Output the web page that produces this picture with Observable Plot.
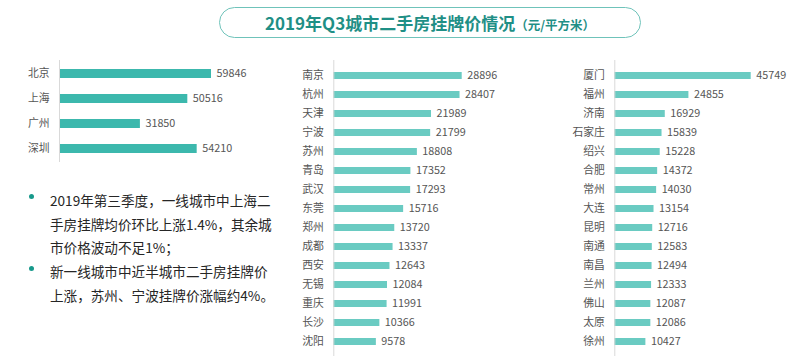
<!DOCTYPE html>
<html>
<head>
<meta charset="utf-8">
<script src="https://cdn.jsdelivr.net/npm/d3@7"></script>
<script src="https://cdn.jsdelivr.net/npm/@observablehq/plot@0.6"></script>
<style>
  html, body { margin: 0; padding: 0; background: #fff; }
  #wrap { position: relative; width: 804px; height: 364px; overflow: hidden; background: #fff;
          font-family: "Noto Sans CJK SC", "Noto Sans", sans-serif; }
  .panel { position: absolute; }
  .panel svg { background: transparent !important; }
  #title { position: absolute; left: 219px; top: 7px; width: 420px; height: 29px;
           border: 1.5px solid #6fc3ba; border-radius: 16px; box-sizing: content-box;
           text-align: center; line-height: 29px; color: #1f8f86; font-weight: bold; white-space: nowrap; }
  #title .main { font-size: 17px; }
  #title .unit { font-size: 12.5px; }
  #notes { position: absolute; left: 50px; top: 189px; font-size: 13.6px; line-height: 23.7px; color: #262626; white-space: nowrap; }
  .dot { position: absolute; width: 5px; height: 5px; border-radius: 50%; background: #17998b; }
</style>
</head>
<body>
<div id="wrap">
  <div id="title"><span class="main">2019年Q3城市二手房挂牌价情况</span><span class="unit">（元/平方米）</span></div>
  <div class="panel" id="p1" style="left:0px;top:50px;"></div>
  <div class="panel" id="p2" style="left:285px;top:50px;"></div>
  <div class="panel" id="p3" style="left:560px;top:50px;"></div>
  <div class="dot" style="left:29px;top:194px;"></div>
  <div class="dot" style="left:29px;top:266px;"></div>
  <div id="notes">2019年第三季度，一线城市中上海二<br>手房挂牌均价环比上涨1.4%，其余城<br>市价格波动不足1%；<br>新一线城市中近半城市二手房挂牌价<br>上涨，苏州、宁波挂牌价涨幅约4%。</div>
</div>
<script>
// Tier-1 cities
const tier1Cities = ["北京", "上海", "广州", "深圳"];
const tier1Values = [59846, 50516, 31850, 54210];

// New tier-1 cities (middle panel)
const newTier1Cities = ["南京", "杭州", "天津", "宁波", "苏州", "青岛", "武汉", "东莞", "郑州", "成都", "西安", "无锡", "重庆", "长沙", "沈阳"];
const newTier1Values = [28896, 28407, 21989, 21799, 18808, 17352, 17293, 15716, 13720, 13337, 12643, 12084, 11991, 10366, 9578];

// Other cities (right panel)
const otherCities = ["厦门", "福州", "济南", "石家庄", "绍兴", "合肥", "常州", "大连", "昆明", "南通", "南昌", "兰州", "佛山", "太原", "徐州"];
const otherValues = [45749, 24855, 16929, 15839, 15228, 14372, 14030, 13154, 12716, 12583, 12494, 12333, 12087, 12086, 10427];

function panel(el, cities, values, o) {
  const data = cities.map((c, i) => ({city: c, value: values[i]}));
  const xmax = 100000;
  const chart = Plot.plot({
    width: o.width,
    height: o.height,
    marginTop: o.mt,
    marginBottom: o.mb,
    marginLeft: o.axisX,
    marginRight: 0,
    style: {background: "transparent", fontFamily: '"Noto Sans CJK SC", "Noto Sans", sans-serif'},
    x: {domain: [0, xmax], range: [o.axisX, o.axisX + xmax * o.k], axis: null},
    y: {domain: cities, range: o.yr, paddingInner: o.pad, paddingOuter: o.pad / 2, axis: null},
    marks: [
      Plot.barX(data, {x: "value", y: "city", fill: o.color, inset: 0}),
      Plot.ruleX([0], {stroke: "#d9d9d9", strokeWidth: 1}),
      Plot.text(data, {x: 0, y: "city", text: "city", textAnchor: "end", dx: -10, fill: "#555", fontSize: 10.8}),
      Plot.text(data, {x: "value", y: "city", text: d => String(d.value), textAnchor: "start", dx: 5, fill: "#555", fontSize: 10.8})
    ]
  });
  document.getElementById(el).appendChild(chart);
}

panel("p1", tier1Cities, tier1Values, {width: 280, height: 120, mt: 10, mb: 8, axisX: 59, k: 152 / 59846, yr: [10, 111.7], pad: 0.65, color: "#3cb8ad"});
panel("p2", newTier1Cities, newTier1Values, {width: 270, height: 314, mt: 10, mb: 8, axisX: 48.3, k: 128.4 / 28896, yr: [10.9, 306.6], pad: 0.62, color: "#6acbc2"});
panel("p3", otherCities, otherValues, {width: 244, height: 314, mt: 10, mb: 8, axisX: 54.3, k: 136.4 / 45749, yr: [10.9, 306.6], pad: 0.62, color: "#6acbc2"});
</script>
</body>
</html>
